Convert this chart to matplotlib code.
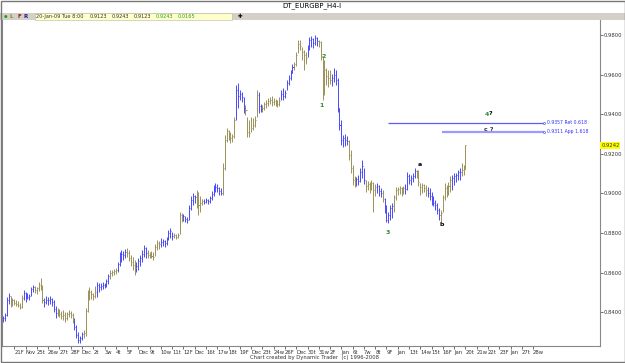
import numpy as np
import matplotlib
matplotlib.use("Agg")
import matplotlib.pyplot as plt
from matplotlib.patches import Rectangle

# --- EURGBP 4-hour bars, 20-Nov-08 .. 20-Jan-09 (prices in 1/10000) ----------
bar_high = [
    8381, 8396, 8477, 8497, 8482, 8472, 8467, 8462, 8457, 8447,
    8487, 8512, 8502, 8497, 8492, 8528, 8538, 8533, 8528, 8553,
    8573, 8538, 8472, 8482, 8477, 8482, 8472, 8462, 8432, 8421,
    8416, 8406, 8411, 8401, 8401, 8411, 8406, 8396, 8371, 8336,
    8300, 8280, 8300, 8310, 8421, 8512, 8528, 8512, 8497, 8533,
    8553, 8548, 8548, 8553, 8548, 8568, 8593, 8613, 8613, 8618,
    8623, 8654, 8704, 8714, 8709, 8719, 8724, 8714, 8689, 8679,
    8664, 8654, 8674, 8689, 8714, 8739, 8729, 8714, 8704, 8709,
    8704, 8744, 8765, 8760, 8775, 8770, 8765, 8780, 8815, 8825,
    8805, 8800, 8795, 8800, 8906, 8901, 8896, 8886, 8881, 8941,
    8987, 9002, 8992, 9017, 9007, 8987, 8972, 8972, 8977, 8972,
    8987, 9012, 9042, 9052, 9047, 9032, 9027, 9153, 9295, 9330,
    9320, 9310, 9300, 9386, 9547, 9558, 9522, 9512, 9487, 9446,
    9386, 9371, 9386, 9381, 9391, 9522, 9512, 9452, 9446, 9462,
    9472, 9482, 9487, 9492, 9482, 9477, 9472, 9487, 9522, 9532,
    9522, 9573, 9598, 9623, 9654, 9664, 9714, 9775, 9775, 9739,
    9724, 9714, 9749, 9790, 9795, 9785, 9800, 9790, 9775, 9770,
    9689, 9674, 9633, 9623, 9623, 9603, 9633, 9623, 9583, 9431,
    9371, 9295, 9300, 9290, 9270, 9219, 9143, 9088, 9083, 9093,
    9128, 9169, 9128, 9068, 9063, 9058, 9068, 9058, 9047, 9052,
    9042, 9027, 9017, 8977, 8941, 8906, 8941, 8951, 8992, 9032,
    9032, 9037, 9032, 9037, 9047, 9108, 9098, 9093, 9103, 9128,
    9118, 9118, 9052, 9052, 9047, 9042, 9032, 9027, 9007, 8987,
    8967, 8951, 8926, 8916, 8992, 9052, 9042, 9058, 9088, 9093,
    9103, 9103, 9118, 9128, 9153, 9143, 9243,
]
bar_low = [
    8351, 8356, 8381, 8442, 8427, 8432, 8437, 8432, 8427, 8416,
    8421, 8462, 8452, 8467, 8462, 8482, 8502, 8497, 8492, 8507,
    8512, 8447, 8427, 8442, 8437, 8442, 8432, 8401, 8371, 8381,
    8376, 8366, 8361, 8351, 8361, 8376, 8371, 8346, 8310, 8270,
    8245, 8245, 8260, 8270, 8280, 8401, 8462, 8467, 8462, 8472,
    8477, 8502, 8512, 8518, 8523, 8528, 8543, 8568, 8583, 8588,
    8593, 8603, 8634, 8654, 8664, 8674, 8679, 8659, 8634, 8613,
    8588, 8603, 8613, 8634, 8654, 8679, 8674, 8674, 8674, 8674,
    8664, 8684, 8714, 8719, 8729, 8734, 8729, 8739, 8765, 8775,
    8765, 8775, 8770, 8775, 8795, 8856, 8861, 8856, 8851, 8866,
    8916, 8941, 8951, 8926, 8891, 8906, 8941, 8946, 8951, 8946,
    8951, 8967, 8987, 9007, 9007, 8992, 8992, 8992, 9118, 9260,
    9270, 9255, 9260, 9280, 9371, 9431, 9472, 9462, 9406, 9396,
    9285, 9285, 9310, 9320, 9335, 9386, 9406, 9411, 9411, 9421,
    9431, 9441, 9452, 9441, 9446, 9441, 9436, 9441, 9472, 9472,
    9482, 9522, 9547, 9573, 9608, 9623, 9643, 9709, 9724, 9674,
    9623, 9654, 9689, 9724, 9739, 9734, 9749, 9744, 9739, 9674,
    9472, 9497, 9547, 9537, 9553, 9543, 9563, 9547, 9411, 9320,
    9244, 9234, 9239, 9244, 9169, 9103, 9042, 9032, 9037, 9042,
    9058, 9078, 9047, 9007, 9017, 9002, 9017, 8906, 8987, 9002,
    8987, 8982, 8957, 8901, 8856, 8851, 8866, 8876, 8906, 8967,
    8992, 8997, 8987, 8997, 8997, 9017, 9047, 9042, 9058, 9078,
    9078, 9037, 8992, 9002, 9007, 8987, 8982, 8967, 8941, 8936,
    8916, 8896, 8866, 8856, 8906, 8967, 8982, 8992, 9007, 9017,
    9042, 9058, 9068, 9068, 9088, 9093, 9123,
]
bar_close = [
    8371, 8386, 8462, 8482, 8452, 8462, 8447, 8442, 8437, 8427,
    8472, 8497, 8482, 8477, 8482, 8518, 8528, 8512, 8523, 8538,
    8523, 8462, 8452, 8462, 8462, 8467, 8452, 8416, 8396, 8401,
    8391, 8381, 8386, 8371, 8391, 8396, 8386, 8361, 8326, 8285,
    8260, 8270, 8290, 8295, 8406, 8487, 8502, 8492, 8482, 8502,
    8538, 8528, 8533, 8538, 8543, 8558, 8583, 8598, 8603, 8608,
    8613, 8644, 8684, 8694, 8689, 8704, 8699, 8674, 8654, 8638,
    8623, 8634, 8659, 8674, 8694, 8724, 8699, 8689, 8694, 8684,
    8679, 8729, 8749, 8744, 8755, 8760, 8749, 8770, 8800, 8810,
    8785, 8790, 8780, 8790, 8891, 8876, 8886, 8871, 8866, 8926,
    8967, 8987, 8982, 8967, 8941, 8951, 8962, 8957, 8967, 8962,
    8977, 8997, 9027, 9032, 9027, 9012, 9002, 9128, 9270, 9315,
    9295, 9280, 9290, 9371, 9522, 9492, 9502, 9487, 9431, 9421,
    9310, 9305, 9330, 9345, 9371, 9497, 9441, 9426, 9431, 9452,
    9457, 9467, 9472, 9462, 9467, 9457, 9452, 9467, 9502, 9492,
    9507, 9558, 9583, 9608, 9638, 9654, 9699, 9755, 9744, 9714,
    9699, 9684, 9734, 9775, 9780, 9760, 9785, 9770, 9765, 9694,
    9598, 9623, 9593, 9583, 9573, 9583, 9598, 9573, 9431, 9345,
    9270, 9280, 9270, 9265, 9194, 9128, 9068, 9058, 9073, 9063,
    9108, 9138, 9068, 9037, 9047, 9027, 9052, 9017, 9032, 9037,
    9012, 9002, 8972, 8916, 8866, 8891, 8926, 8936, 8982, 9017,
    9022, 9027, 9017, 9027, 9022, 9088, 9068, 9078, 9088, 9113,
    9098, 9058, 9032, 9042, 9027, 9017, 9002, 8987, 8967, 8951,
    8941, 8916, 8891, 8901, 8982, 9027, 9002, 9037, 9068, 9078,
    9088, 9093, 9108, 9108, 9118, 9123, 9243,
]

# DT bar colouring: (number of bars, trend) runs, 'u' blue / 'd' khaki
trend_runs = [
    (4, 'u'), (7, 'd'), (6, 'u'), (5, 'd'), (7, 'u'), (9, 'd'), (5, 'u'),
    (7, 'd'), (7, 'u'), (4, 'd'), (5, 'u'), (5, 'd'), (6, 'u'), (7, 'd'),
    (7, 'u'), (5, 'd'), (7, 'u'), (4, 'd'), (10, 'u'), (7, 'd'), (5, 'u'),
    (7, 'd'), (2, 'u'), (10, 'd'), (7, 'u'), (7, 'd'), (6, 'u'), (7, 'd'),
    (9, 'u'), (4, 'd'), (5, 'u'), (6, 'd'), (3, 'u'), (1, 'd'), (5, 'u'),
    (6, 'd'), (6, 'u'), (6, 'd'), (7, 'u'), (6, 'd'), (5, 'u'), (3, 'd'),
]

day_labels = ['21F', 'Nov', '25t', '26w', '27t', '28F', 'Dec', '2t', '3w', '4t',
              '5F', 'Dec', '9t', '10w', '11t', '12F', 'Dec', '16t', '17w', '18t',
              '19F', 'Dec', '23t', '24w', '26F', 'Dec', '30t', '31w', '2F', 'Jan',
              '6t', '7w', '8t', '9F', 'Jan', '13t', '14w', '15t', '16F', 'Jan',
              '20t', '21w', '22t', '23F', 'Jan', '27t', '28w']
price_ticks = [0.84, 0.86, 0.88, 0.90, 0.92, 0.94, 0.96, 0.98]

# wave counts: (bar, price, text, colour)
wave_labels = [
    (170.7, 0.9689, '2', '#2e8b2e'),
    (169.7, 0.9446, '1', '#2e8b2e'),
    (204.8, 0.8805, '3', '#2e8b2e'),
    (221.8, 0.9148, 'a', 'black'),
    (233.5, 0.8845, 'b', 'black'),
]
# fib targets: (price, start bar, text)
fib_lines = [
    (0.9357, 204.8, '0.9357 Ret 0.618'),
    (0.9311, 233.5, '0.9311 App 1.618'),
]
info_vals = ['20-Jan-09 Tue 8:00', '0.9123', '0.9243', '0.9123', '0.9243', '0.0165']

BLUE = '#4a4af8'
KHAKI = '#9a9258'

high = np.array(bar_high) / 10000
low = np.array(bar_low) / 10000
close = np.array(bar_close) / 10000
x = np.arange(len(close))
colours = []
for n, t in trend_runs:
    colours += [BLUE if t == 'u' else KHAKI] * n

fig = plt.figure(figsize=(6.25, 3.63), dpi=100)
ax = fig.add_axes([2 / 625, 17 / 363, 598 / 625, 326 / 363])

ax.vlines(x, low, high, colors=colours, lw=0.7)
ax.hlines(close, x, x + 0.55, colors=colours, lw=0.7)

# fib projection lines
ax.hlines(fib_lines[0][0], fib_lines[0][1], 288, color='#5a5aff', lw=0.9)
ax.hlines(fib_lines[1][0], fib_lines[1][1], 288, color='#9a9aff', lw=1.6)
for p, x0, txt in fib_lines:
    ax.plot(288, p, 'o', ms=1.5, mfc='white', mec='#5a5aff', mew=0.5)
    ax.text(289.5, p, txt, fontsize=3.3, color='#3030ff', va='center')

for bx, p, txt, c in wave_labels:
    ax.text(bx, p, txt, fontsize=4.5, color=c, ha='center', va='center', fontweight='bold')
ax.text(257.4, 0.9396, '4', fontsize=4.5, color='#2e8b2e', ha='center', va='center', fontweight='bold')
ax.text(259.2, 0.9405, '?', fontsize=4.5, color='black', ha='center', va='center', fontweight='bold')
ax.text(258.5, 0.9322, 'c ?', fontsize=4.5, color='#333333', ha='center', va='center', fontweight='bold')

ax.set_xlim(-0.53, 317.6)
ax.set_ylim(0.82293, 0.98758)

ax.yaxis.tick_right()
ax.set_yticks(price_ticks)
ax.set_yticklabels([f'{v:.4f}' for v in price_ticks])
ax.tick_params(axis='y', direction='out', length=2, width=0.5, pad=0.5,
               labelsize=3.8, colors='#333333')
ax.set_xticks(np.arange(len(day_labels)) * 6 + 6)
ax.set_xticklabels(day_labels, ha='left')
ax.tick_params(axis='x', direction='out', length=2, width=0.5, pad=1,
               labelsize=3.8, colors='#333333')

for s in ['left', 'right', 'bottom']:
    ax.spines[s].set_color('#888888')
    ax.spines[s].set_linewidth(0.8)
ax.spines['top'].set_visible(False)

# current price tag on the price scale
ax.text(1.002, (0.9243 - 0.82293) / (0.98758 - 0.82293), '0.9242', transform=ax.transAxes,
        fontsize=3.8, va='center', ha='left', color='#333333',
        bbox=dict(boxstyle='square,pad=0.15', fc='#ffff00', ec='none'))

# header: title, toolbar band and info box
fig.text(0.499, 1 - 6 / 363, 'DT_EURGBP_H4-I', fontsize=5, ha='center', va='center')
fig.patches.append(Rectangle((0, 1 - 20 / 363), 1, 7 / 363, transform=fig.transFigure,
                             fc='#d4d0c8', ec='none'))
fig.patches.append(Rectangle((35 / 625, 1 - 19.5 / 363), 197 / 625, 6 / 363,
                             transform=fig.transFigure, fc='#ffffcc', ec='#b8b8a0', lw=0.4))
ty = 1 - 16.5 / 363
fig.text(4 / 625, ty, '\u25cf', fontsize=3, color='#20a020', va='center')
fig.text(9 / 625, ty, 'L', fontsize=4, color='#8a8a20', va='center', fontweight='bold')
fig.text(17 / 625, ty, 'F', fontsize=4, color='#902020', va='center', fontweight='bold')
fig.text(24 / 625, ty, 'R', fontsize=4, color='#202090', va='center', fontweight='bold')
info_x = [36, 90, 112, 134, 156, 178]
info_c = ['#333333', '#333333', '#333333', '#333333', '#2a9a2a', '#2a9a2a']
for xi, t, c in zip(info_x, info_vals, info_c):
    fig.text(xi / 625, ty, t, fontsize=3.6, color=c, va='center')
fig.text(240 / 625, ty, '\u271a', fontsize=4, color='black', va='center', ha='center')

fig.text(315 / 625, 1 - 358 / 363, 'Chart created by Dynamic Trader  (c) 1996-2008',
         fontsize=3.8, ha='center', va='center', color='#333333')
fig.patches.append(Rectangle((0.0008, 0.0014), 0.9984, 0.9972, transform=fig.transFigure,
                             fill=False, ec='#777777', lw=1))

fig.savefig('out.png', dpi=100)
